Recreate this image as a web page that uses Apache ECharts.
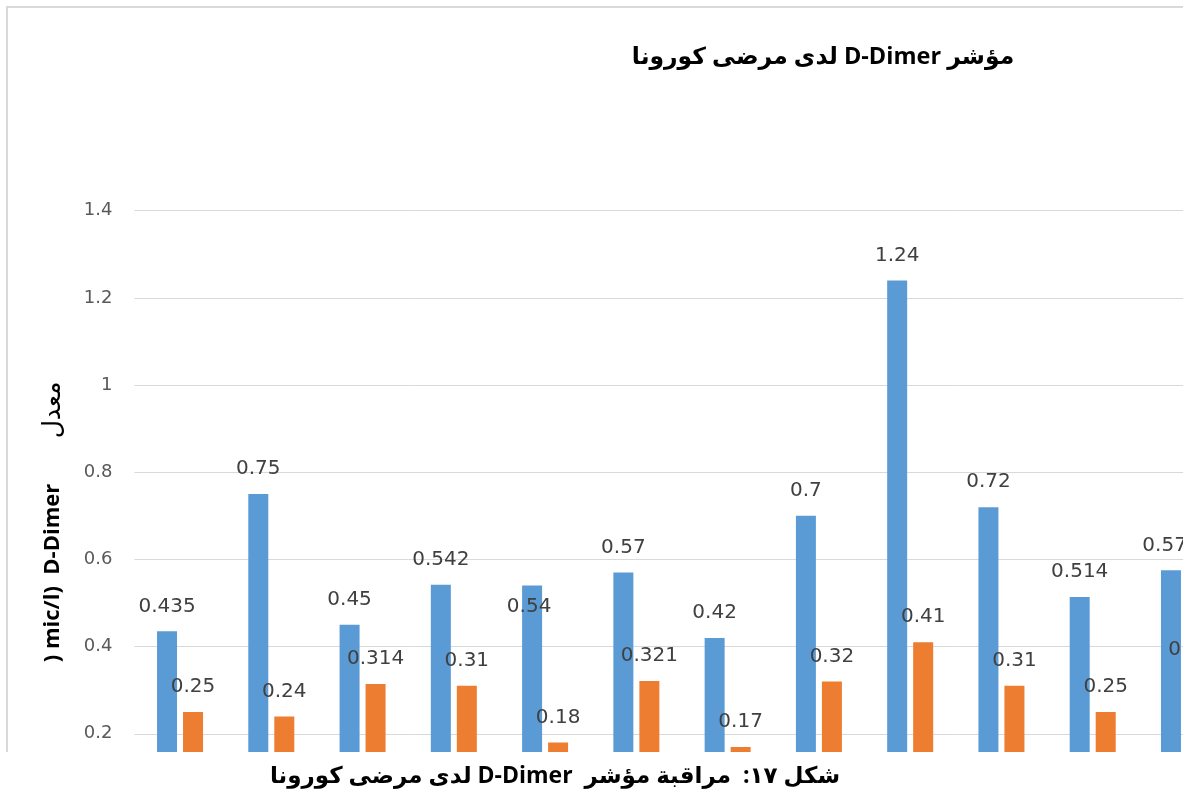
<!DOCTYPE html>
<html>
<head>
<meta charset="utf-8">
<script src="https://cdn.jsdelivr.net/npm/echarts@6/dist/echarts.min.js"></script>
<style>
  html, body { margin: 0; padding: 0; background: #ffffff; overflow: hidden; width: 1196px; height: 796px; }
  #clip { position: absolute; left: 0; top: 0; width: 1183px; height: 796px; overflow: hidden; background: #ffffff; }
  #chart { position: absolute; left: 0; top: 0; width: 1240px; height: 830px; }
</style>
</head>
<body>
<div id="clip"><div id="chart"></div></div>
<script>
// Patient groups along the x axis
const categories = ['1', '2', '3', '4', '5', '6', '7', '8', '9', '10', '11', '12'];
// Mean D-Dimer (mic/l), first measurement
const firstValues = [0.435, 0.75, 0.45, 0.542, 0.54, 0.57, 0.42, 0.7, 1.24, 0.72, 0.514, 0.575];
// Mean D-Dimer (mic/l), follow-up measurement
const secondValues = [0.25, 0.24, 0.314, 0.31, 0.18, 0.321, 0.17, 0.32, 0.41, 0.31, 0.25, 0.336];
// Value axis ticks
const yTicks = { min: 0, max: 1.4, interval: 0.2 };

const titleText = '\u202Bمؤشر D-Dimer لدى مرضى كورونا\u202C';
const captionText = '\u202Bشكل ١٧:  مراقبة مؤشر  D-Dimer لدى مرضى كورونا\u202C';
const axisTitleLatin = ') mic/l)  D-Dimer';
const axisTitleArabic = 'معدل';

const BLUE = '#5B9BD5';
const ORANGE = '#ED7D31';
const FRAME = '#d9d9d9';
const LABEL_FONT = '"DejaVu Sans", sans-serif';
const HEAD_FONT = '"Open Sans", "DejaVu Sans", sans-serif';

const labelStyle = {
  show: true,
  position: 'top',
  distance: 15,
  color: '#404040',
  fontSize: 20,
  lineHeight: 20,
  fontFamily: LABEL_FONT
};

// The fifth blue label sits lower, overlapping its bar
const firstData = firstValues.map((v, i) => i === 4
  ? { value: v, label: { position: 'insideTop', distance: 11, offset: [-3, 0] } }
  : v);

const chart = echarts.init(document.getElementById('chart'), null, { renderer: 'canvas' });

chart.setOption({
  animation: false,
  backgroundColor: '#ffffff',
  title: {
    text: titleText,
    left: 818,
    top: 40,
    textAlign: 'center',
    textStyle: {
      fontFamily: HEAD_FONT,
      fontWeight: 'bold',
      fontSize: 23.5,
      color: '#000000'
    }
  },
  grid: {
    left: 134.4,
    top: 210.7,
    width: 1095.2,
    height: 612.5,
    containLabel: false
  },
  xAxis: {
    type: 'category',
    data: categories,
    axisLine: { show: false },
    axisTick: { show: false },
    axisLabel: { show: false },
    splitLine: { show: false }
  },
  yAxis: {
    type: 'value',
    min: yTicks.min,
    max: yTicks.max,
    interval: yTicks.interval,
    axisLine: { show: false },
    axisTick: { show: false },
    axisLabel: {
      margin: 22,
      color: '#595959',
      fontSize: 18,
      fontFamily: LABEL_FONT
    },
    splitLine: { lineStyle: { color: FRAME, width: 1 } }
  },
  series: [
    {
      name: 'first',
      type: 'bar',
      data: firstData,
      barWidth: 20,
      barGap: '30%',
      itemStyle: { color: BLUE },
      label: labelStyle
    },
    {
      name: 'second',
      type: 'bar',
      data: secondValues,
      barWidth: 20,
      barGap: '30%',
      itemStyle: { color: ORANGE },
      label: labelStyle
    }
  ],
  graphic: [
    // page area below the chart
    { type: 'rect', z: 100, silent: true, shape: { x: 0, y: 752, width: 1240, height: 80 }, style: { fill: '#ffffff' } },
    // chart frame
    { type: 'line', z: 101, silent: true, shape: { x1: 6, y1: 7, x2: 1190, y2: 7 }, style: { stroke: FRAME, lineWidth: 2 } },
    { type: 'line', z: 101, silent: true, shape: { x1: 7, y1: 6, x2: 7, y2: 752 }, style: { stroke: FRAME, lineWidth: 2 } },
    // value axis title
    {
      type: 'text',
      z: 101,
      x: 53,
      y: 573,
      rotation: Math.PI / 2,
      style: {
        text: axisTitleLatin,
        align: 'center',
        verticalAlign: 'middle',
        fontFamily: '"Open Sans", sans-serif',
        fontWeight: 'bold',
        fontSize: 22,
        fill: '#000000'
      }
    },
    {
      type: 'text',
      z: 101,
      x: 53,
      y: 410,
      rotation: Math.PI / 2,
      style: {
        text: axisTitleArabic,
        align: 'center',
        verticalAlign: 'middle',
        fontFamily: '"DejaVu Sans", sans-serif',
        fontWeight: 'normal',
        fontSize: 25,
        fill: '#000000'
      }
    },
    // figure caption
    {
      type: 'text',
      z: 101,
      x: 555,
      y: 776,
      style: {
        text: captionText,
        align: 'center',
        verticalAlign: 'middle',
        fontFamily: HEAD_FONT,
        fontWeight: 'bold',
        fontSize: 23,
        fill: '#000000'
      }
    }
  ]
});
</script>
</body>
</html>
